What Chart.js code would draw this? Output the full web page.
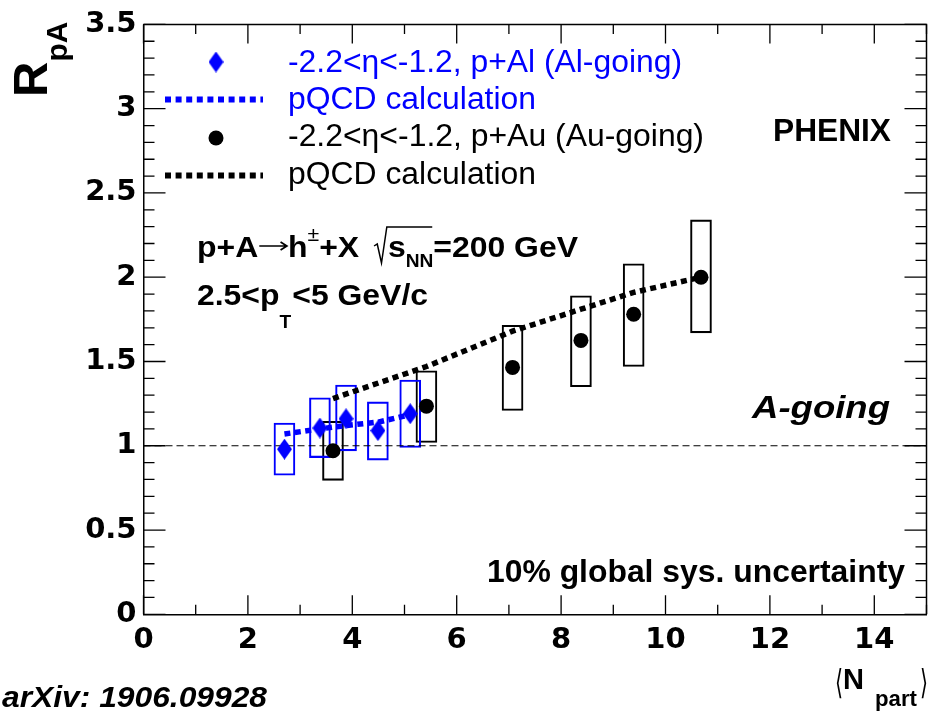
<!DOCTYPE html>
<html>
<head>
<meta charset="utf-8">
<script src="https://cdn.jsdelivr.net/npm/chart.js@4"></script>
<style>
html, body { margin: 0; padding: 0; background: #fff; overflow: hidden; }
canvas { display: block; }
</style>
</head>
<body>
<canvas id="rpaChart" width="934" height="711"></canvas>
<script>
// p+Al, Al-going: <Npart>, RpA and systematic box edges
const alNpart = [2.70, 3.38, 3.88, 4.49, 5.11];
const alRpA   = [0.98, 1.105, 1.16, 1.09, 1.19];
const alSysLo = [0.825, 0.93, 0.97, 0.915, 0.99];
const alSysHi = [1.135, 1.285, 1.36, 1.26, 1.39];
// pQCD curve for p+Al
const alCalcNpart = [2.70, 3.38, 3.88, 4.49, 5.05];
const alCalcRpA   = [1.07, 1.10, 1.12, 1.14, 1.18];

// p+Au, Au-going
const auNpart = [3.63, 5.42, 7.07, 8.38, 9.39, 10.68];
const auRpA   = [0.97, 1.235, 1.465, 1.625, 1.78, 2.00];
const auSysLo = [0.795, 1.02, 1.21, 1.35, 1.47, 1.67];
const auSysHi = [1.145, 1.445, 1.715, 1.89, 2.08, 2.34];
// pQCD curve for p+Au
const auCalcNpart = [3.63, 5.42, 7.07, 8.38, 9.39, 10.68];
const auCalcRpA   = [1.28, 1.47, 1.68, 1.81, 1.91, 2.00];

// reference line at RpA = 1
const unityX = [0, 15];
const unityY = [1, 1];

const xTicks = [0, 2, 4, 6, 8, 10, 12, 14];
const yTicks = [0, 0.5, 1, 1.5, 2, 2.5, 3, 3.5];

const BLUE = '#0000ff';
const FONT = '"Liberation Sans", Arial, Helvetica, "DejaVu Sans", sans-serif';

const pts = (xs, ys) => xs.map((x, i) => ({ x: x, y: ys[i] }));
const boxes = (xs, lo, hi) => xs.map((x, i) => ({ x: x, y: [lo[i], hi[i]] }));

// tall diamond marker
function diamond(w, h, color) {
  const c = document.createElement('canvas');
  c.width = w; c.height = h;
  const g = c.getContext('2d');
  g.fillStyle = color;
  g.beginPath();
  g.moveTo(w / 2, 0); g.lineTo(w, h / 2); g.lineTo(w / 2, h); g.lineTo(0, h / 2);
  g.closePath(); g.fill();
  return c;
}
const alMarker = diamond(15, 21, BLUE);

function fontOf(r) {
  return (r.s || 'normal') + ' ' + (r.w || 'bold') + ' ' + r.size + 'px ' + FONT;
}

// draws a row of text runs, squeezed/stretched to a given width
function drawRuns(ctx, runs, x, y, width, color) {
  ctx.save();
  ctx.fillStyle = color; ctx.strokeStyle = color;
  ctx.textBaseline = 'alphabetic'; ctx.textAlign = 'left';
  let total = 0;
  runs.forEach(r => {
    if (r.t !== undefined) { ctx.font = fontOf(r); r.adv = ctx.measureText(r.t).width; }
    else r.adv = r.wd;
    total += r.adv + (r.gap || 0);
  });
  const sx = width ? width / total : 1;
  ctx.translate(x, y);
  ctx.scale(sx, 1);
  let cx = 0;
  runs.forEach((r, i) => {
    if (r.t !== undefined) {
      ctx.font = fontOf(r);
      ctx.fillText(r.t, cx, r.dy || 0);
    } else if (r.root) {
      let bar = 0;
      for (let j = i + 1; j <= i + r.root; j++) bar += runs[j].adv + (runs[j].gap || 0);
      ctx.lineWidth = 1.4;
      ctx.beginPath();
      ctx.moveTo(cx, -11); ctx.lineTo(cx + 3, -13);
      ctx.lineTo(cx + 7, 6); ctx.lineTo(cx + 12, -30);
      ctx.lineTo(cx + 12 + bar, -30);
      ctx.stroke();
    } else if (r.arrow) {
      ctx.lineWidth = 1.6;
      ctx.beginPath();
      ctx.moveTo(cx + 1, -11); ctx.lineTo(cx + r.wd - 1, -11);
      ctx.moveTo(cx + r.wd - 7, -15); ctx.lineTo(cx + r.wd - 1, -11); ctx.lineTo(cx + r.wd - 7, -7);
      ctx.stroke();
    }
    cx += r.adv + (r.gap || 0);
  });
  ctx.restore();
}

const framePlugin = {
  id: 'frame',
  afterDatasetsDraw(chart) {
    const { ctx, chartArea: a, scales: { x, y } } = chart;
    ctx.save();
    ctx.strokeStyle = '#000';
    ctx.lineWidth = 1.5;
    ctx.beginPath();
    ctx.moveTo(a.left, a.top); ctx.lineTo(a.right, a.top); ctx.lineTo(a.right, a.bottom);
    ctx.stroke();
    ctx.lineWidth = 1.3;
    ctx.beginPath();
    for (let v = 0; v <= 15; v++) {
      const px = x.getPixelForValue(v);
      const len = v % 2 === 0 ? 19 : 9.5;
      ctx.moveTo(px, a.bottom); ctx.lineTo(px, a.bottom - len);
      ctx.moveTo(px, a.top); ctx.lineTo(px, a.top + len);
    }
    for (let k = 0; k <= 35; k++) {
      const py = y.getPixelForValue(k / 10);
      const len = k % 5 === 0 ? 22 : 11;
      ctx.moveTo(a.left, py); ctx.lineTo(a.left + len, py);
      ctx.moveTo(a.right, py); ctx.lineTo(a.right - len, py);
    }
    ctx.stroke();
    ctx.restore();
  },
  afterDraw(chart) {
    const ctx = chart.ctx;
    ctx.save();

    // legend
    ctx.drawImage(alMarker, 216 - alMarker.width / 2, 62 - alMarker.height / 2);
    ctx.fillStyle = '#000';
    ctx.beginPath(); ctx.arc(216, 138, 7.5, 0, Math.PI * 2); ctx.fill();
    ctx.lineWidth = 6; ctx.setLineDash([6, 4.6]); ctx.lineCap = 'butt';
    ctx.strokeStyle = BLUE;
    ctx.beginPath(); ctx.moveTo(165, 99.5); ctx.lineTo(263, 99.5); ctx.stroke();
    ctx.strokeStyle = '#000';
    ctx.beginPath(); ctx.moveTo(165, 175.5); ctx.lineTo(263, 175.5); ctx.stroke();
    ctx.setLineDash([]);

    drawRuns(ctx, [{ t: '-2.2<η<-1.2, p+Al (Al-going)', size: 31, w: 'normal' }], 288, 72, 394, BLUE);
    drawRuns(ctx, [{ t: 'pQCD calculation', size: 31, w: 'normal' }], 288, 109, 248, BLUE);
    drawRuns(ctx, [{ t: '-2.2<η<-1.2, p+Au (Au-going)', size: 31, w: 'normal' }], 288, 146, 416, '#000');
    drawRuns(ctx, [{ t: 'pQCD calculation', size: 31, w: 'normal' }], 288, 184, 248, '#000');

    drawRuns(ctx, [{ t: 'PHENIX', size: 31 }], 773, 141, 118, '#000');
    drawRuns(ctx, [{ t: 'A-going', size: 32, s: 'italic' }], 752, 418, 138, '#000');

    drawRuns(ctx, [
      { t: 'p+A', size: 30 }, { arrow: true, wd: 28 }, { t: 'h', size: 30 },
      { t: '±', size: 20, w: 'normal', dy: -16 }, { t: '+X', size: 30, gap: 14 },
      { root: 2, wd: 13 }, { t: 's', size: 30 }, { t: 'NN', size: 18, dy: 10 },
      { t: '=200 GeV', size: 30 }
    ], 197, 257, 381, '#000');
    drawRuns(ctx, [
      { t: '2.5<p', size: 30 }, { t: 'T', size: 18, dy: 23, gap: 1 }, { t: '<5 GeV/c', size: 30 }
    ], 197, 305, 231, '#000');

    drawRuns(ctx, [{ t: '10% global sys. uncertainty', size: 31 }], 487, 582, 418, '#000');
    drawRuns(ctx, [{ t: 'arXiv: 1906.09928', size: 29, s: 'italic' }], 2, 707, 265, '#000');

    // x axis title
    drawRuns(ctx, [{ t: '⟨', size: 34, w: 'normal' }], 835, 694, 8, '#000');
    drawRuns(ctx, [{ t: 'N', size: 30 }], 843, 689, 21, '#000');
    drawRuns(ctx, [{ t: 'part', size: 22 }], 875, 706, 42, '#000');
    drawRuns(ctx, [{ t: '⟩', size: 34, w: 'normal' }], 920, 694, 8, '#000');

    // y axis title, rotated
    ctx.translate(47, 97);
    ctx.rotate(-Math.PI / 2);
    ctx.fillStyle = '#000';
    ctx.textAlign = 'left'; ctx.textBaseline = 'alphabetic';
    ctx.font = 'bold 49px ' + FONT;
    ctx.fillText('R', 0, 0);
    const rw = ctx.measureText('R').width;
    ctx.font = 'bold 30px ' + FONT;
    ctx.fillText('pA', rw, 20);
    ctx.restore();
  }
};

const tickFont = { family: '"DejaVu Sans", sans-serif', weight: 'bold', size: 29 };

new Chart(document.getElementById('rpaChart'), {
  type: 'scatter',
  data: {
    datasets: [
      {
        type: 'bar', data: boxes(auNpart, auSysLo, auSysHi),
        backgroundColor: 'rgba(0,0,0,0)', borderColor: '#000', borderWidth: 1.4,
        borderSkipped: false, barThickness: 21, grouped: false, order: 6
      },
      {
        type: 'bar', data: boxes(alNpart, alSysLo, alSysHi),
        backgroundColor: 'rgba(0,0,0,0)', borderColor: BLUE, borderWidth: 1.4,
        borderSkipped: false, barThickness: 21, grouped: false, order: 5
      },
      {
        type: 'line', data: pts(unityX, unityY), borderColor: '#000', borderWidth: 1.2,
        borderDash: [7, 4], pointRadius: 0, fill: false, order: 4
      },
      {
        type: 'line', data: pts(auCalcNpart, auCalcRpA), borderColor: '#000', borderWidth: 5.5,
        borderDash: [6, 4.5], borderCapStyle: 'butt', pointRadius: 0, fill: false, order: 3
      },
      {
        type: 'line', data: pts(alCalcNpart, alCalcRpA), borderColor: BLUE, borderWidth: 5.5,
        borderDash: [6, 4.5], borderCapStyle: 'butt', pointRadius: 0, fill: false, order: 3
      },
      {
        type: 'scatter', data: pts(auNpart, auRpA), pointStyle: 'circle', pointRadius: 7.5,
        backgroundColor: '#000', borderWidth: 0, order: 2
      },
      {
        type: 'scatter', data: pts(alNpart, alRpA), pointStyle: alMarker, order: 1
      }
    ]
  },
  options: {
    responsive: false,
    animation: false,
    layout: { padding: { top: 19.3, right: 2, left: 0, bottom: 0 } },
    plugins: { legend: { display: false }, tooltip: { enabled: false } },
    scales: {
      x: {
        type: 'linear', min: 0, max: 15, offset: false,
        grid: { display: false, drawTicks: false },
        border: { display: true, color: '#000', width: 1.5 },
        ticks: { font: tickFont, color: '#000', padding: 9, maxRotation: 0, callback: v => String(v) },
        afterBuildTicks: s => { s.ticks = xTicks.map(v => ({ value: v })); },
        afterFit: s => { s.height = 96.7; }
      },
      y: {
        type: 'linear', min: 0, max: 3.5,
        grid: { display: false, drawTicks: false },
        border: { display: true, color: '#000', width: 1.5 },
        ticks: { font: tickFont, color: '#000', padding: 7, callback: v => String(v) },
        afterBuildTicks: s => { s.ticks = yTicks.map(v => ({ value: v })); },
        afterFit: s => { s.width = 143.5; }
      }
    }
  },
  plugins: [framePlugin]
});
</script>
</body>
</html>
